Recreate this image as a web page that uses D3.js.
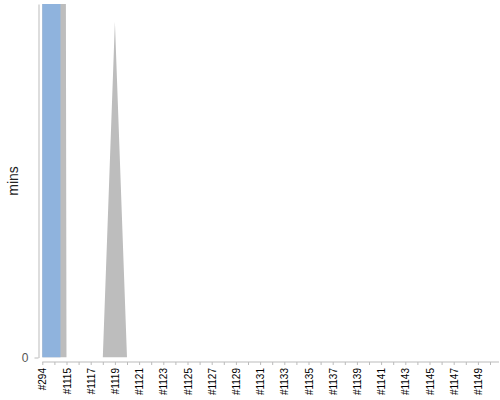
<!DOCTYPE html>
<html>
<head>
<meta charset="utf-8">
<script src="https://cdn.jsdelivr.net/npm/d3@7"></script>
<style>
  body { margin: 0; background: #fff; }
  svg { font-family: "Liberation Sans", Arial, sans-serif; }
</style>
</head>
<body>
<svg width="500" height="400"></svg>
<script>
// build ids: first one is old, the rest run #1114 .. #1150
var builds = ["#294"];
for (var n = 1114; n <= 1150; n++) builds.push("#" + n);

// gray area series (mins), first two runs are way off the top
var areaMins = [400, 400, 0, 0, 0, 0, 19, 0, 0, 0, 0, 0, 0, 0, 0, 0, 0, 0, 0,
                0, 0, 0, 0, 0, 0, 0, 0, 0, 0, 0, 0, 0, 0, 0, 0, 0, 0, 0];
// blue bar series, only the first build has a bar
var barBuilds = ["#294"];
var barMins = [400];

var yTicks = [0];

var svg = d3.select("svg");
var plotTop = 4, plotBottom = 357.5, plotLeft = 38.5;

var x = d3.scalePoint().domain(builds).range([42.3, 490]);
var y = d3.scaleLinear().domain([0, 20]).range([plotBottom, plotTop]);

svg.append("clipPath").attr("id", "plot")
  .append("rect").attr("x", plotLeft).attr("y", plotTop)
  .attr("width", 500 - plotLeft).attr("height", plotBottom - plotTop);

var plot = svg.append("g").attr("clip-path", "url(#plot)");

var area = d3.area()
  .x(function(d, i) { return x(builds[i]); })
  .y0(y(0))
  .y1(function(d) { return y(d); });

plot.append("path").datum(areaMins)
  .attr("d", area)
  .attr("fill", "#bdbdbd");

plot.selectAll("rect.bar").data(barMins)
  .enter().append("rect")
  .attr("class", "bar")
  .attr("x", function(d, i) { return x(barBuilds[i]); })
  .attr("width", x.step() * 1.5)
  .attr("y", function(d) { return y(d); })
  .attr("height", function(d) { return y(0) - y(d); })
  .attr("fill", "#8fb3dd");

// y axis
var yAxis = svg.append("g").attr("transform", "translate(" + plotLeft + ",0)")
  .call(d3.axisLeft(y).tickValues(yTicks).tickSize(4).tickPadding(6).tickSizeOuter(0));
yAxis.select(".domain").attr("stroke", "#bbb");
yAxis.selectAll(".tick line").attr("stroke", "#bbb");
yAxis.selectAll(".tick text").attr("fill", "#555").style("font-size", "12px");

// x axis
var xAxis = svg.append("g").attr("transform", "translate(0,362)")
  .call(d3.axisBottom(x).tickSize(3)
    .tickFormat(function(d, i) { return i % 2 == 0 ? d : ""; }));
xAxis.select(".domain").remove();
xAxis.append("line")
  .attr("x1", x(builds[0])).attr("x2", 499)
  .attr("stroke", "#bbb");
xAxis.selectAll(".tick line").attr("stroke", "#bbb");
xAxis.selectAll(".tick text")
  .attr("transform", "rotate(-90)")
  .attr("x", -6).attr("y", 0).attr("dy", "0.35em")
  .style("text-anchor", "end")
  .style("font-size", "10px")
  .attr("fill", "#000");

svg.append("text")
  .attr("transform", "translate(18,181) rotate(-90)")
  .style("text-anchor", "middle")
  .style("font-size", "14px")
  .attr("fill", "#222")
  .text("mins");
</script>
</body>
</html>
